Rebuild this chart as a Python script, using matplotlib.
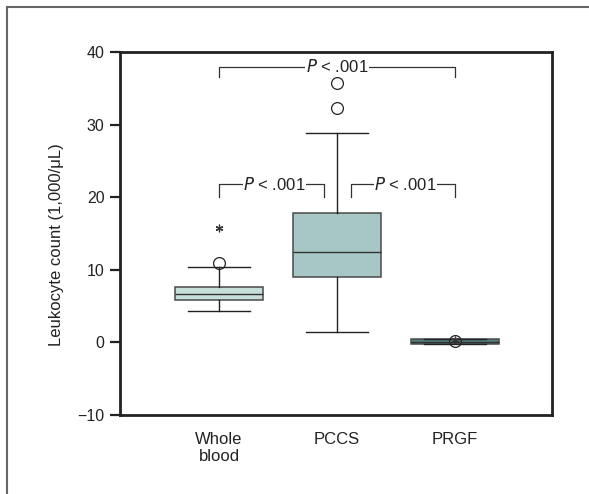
import matplotlib
matplotlib.use("Agg")
import matplotlib.pyplot as plt
from matplotlib.lines import Line2D

plt.rcParams["font.family"] = ["Liberation Sans", "DejaVu Sans"]

# data
groups = ["Whole\nblood", "PCCS", "PRGF"]
medians = [6.65, 12.4, 0.1]
q1 = [5.9, 8.95, -0.2]
q3 = [7.65, 17.85, 0.4]
whisker_low = [4.3, 1.4, -0.2]
whisker_high = [10.45, 28.8, 0.4]
outliers = [[11.0], [32.3, 35.7], [0.2]]
extremes = [[15.8], [], [0.3]]
box_colors = ["#c8dedb", "#a6c7c6", "#4f7f7c"]

y_ticks = [-10, 0, 10, 20, 30, 40]
p_label = "$\\mathit{P}$ < .001"

fig = plt.figure(figsize=(5.89, 4.94), dpi=100)
ax = fig.add_axes([0.2037, 0.16, 0.7333, 0.7347])

positions = [1, 2, 3]
stats = []
for i in range(len(groups)):
    stats.append({
        "med": medians[i], "q1": q1[i], "q3": q3[i],
        "whislo": whisker_low[i], "whishi": whisker_high[i],
        "fliers": outliers[i], "label": groups[i],
    })

bp = ax.bxp(stats, positions=positions, widths=0.75, capwidths=0.52,
            patch_artist=True, showfliers=True,
            boxprops=dict(edgecolor="#4a4a4a", linewidth=1.1),
            medianprops=dict(color="#333333", linewidth=1.0),
            whiskerprops=dict(color="#222222", linewidth=1.0),
            capprops=dict(color="#222222", linewidth=1.0),
            flierprops=dict(marker="o", markersize=8.5, markerfacecolor="none",
                            markeredgecolor="#222222", markeredgewidth=0.9))
for patch, c in zip(bp["boxes"], box_colors):
    patch.set_facecolor(c)

for pos, vals in zip(positions, extremes):
    if vals:
        ax.plot([pos] * len(vals), vals, linestyle="none", marker=(6, 2, 0),
                markersize=5.5, color="#333333", markeredgewidth=0.9)

ax.set_xlim(0.16, 3.82)
ax.set_ylim(-10, 40)
ax.set_yticks(y_ticks)
ax.set_yticklabels(["\u221210", "0", "10", "20", "30", "40"])
ax.tick_params(axis="y", length=7, width=1.6, labelsize=11.5, colors="#222222", pad=4)
ax.tick_params(axis="x", length=0, labelsize=12, colors="#222222", pad=12)
for side in ax.spines.values():
    side.set_linewidth(2.0)
    side.set_color("#222222")

ax.set_ylabel("Leukocyte count (1,000/\u03bcL)", fontsize=12, color="#222222")
ax.yaxis.set_label_coords(-0.13, 0.47)

# significance brackets
def bracket(x0, x1, y, drop, tx):
    ax.plot([x0, x0, x1, x1], [y - drop, y, y, y - drop], color="#333333",
            linewidth=0.9, zorder=3)
    ax.text(tx, y, p_label, ha="center", va="center", fontsize=12, color="#222222",
            zorder=4, bbox=dict(facecolor="white", edgecolor="none", pad=0.5))

bracket(1.0, 3.0, 38.0, 1.4, 2.0)
bracket(1.0, 1.89, 21.8, 1.8, 1.47)
bracket(2.12, 3.0, 21.8, 1.8, 2.58)

# open frame around the figure (top and left only)
fig.add_artist(Line2D([0.012, 1.0], [0.986, 0.986], color="#666666", linewidth=1.5))
fig.add_artist(Line2D([0.012, 0.012], [0.0, 0.986], color="#666666", linewidth=1.5))

fig.savefig("out.png", dpi=100, facecolor="white")
